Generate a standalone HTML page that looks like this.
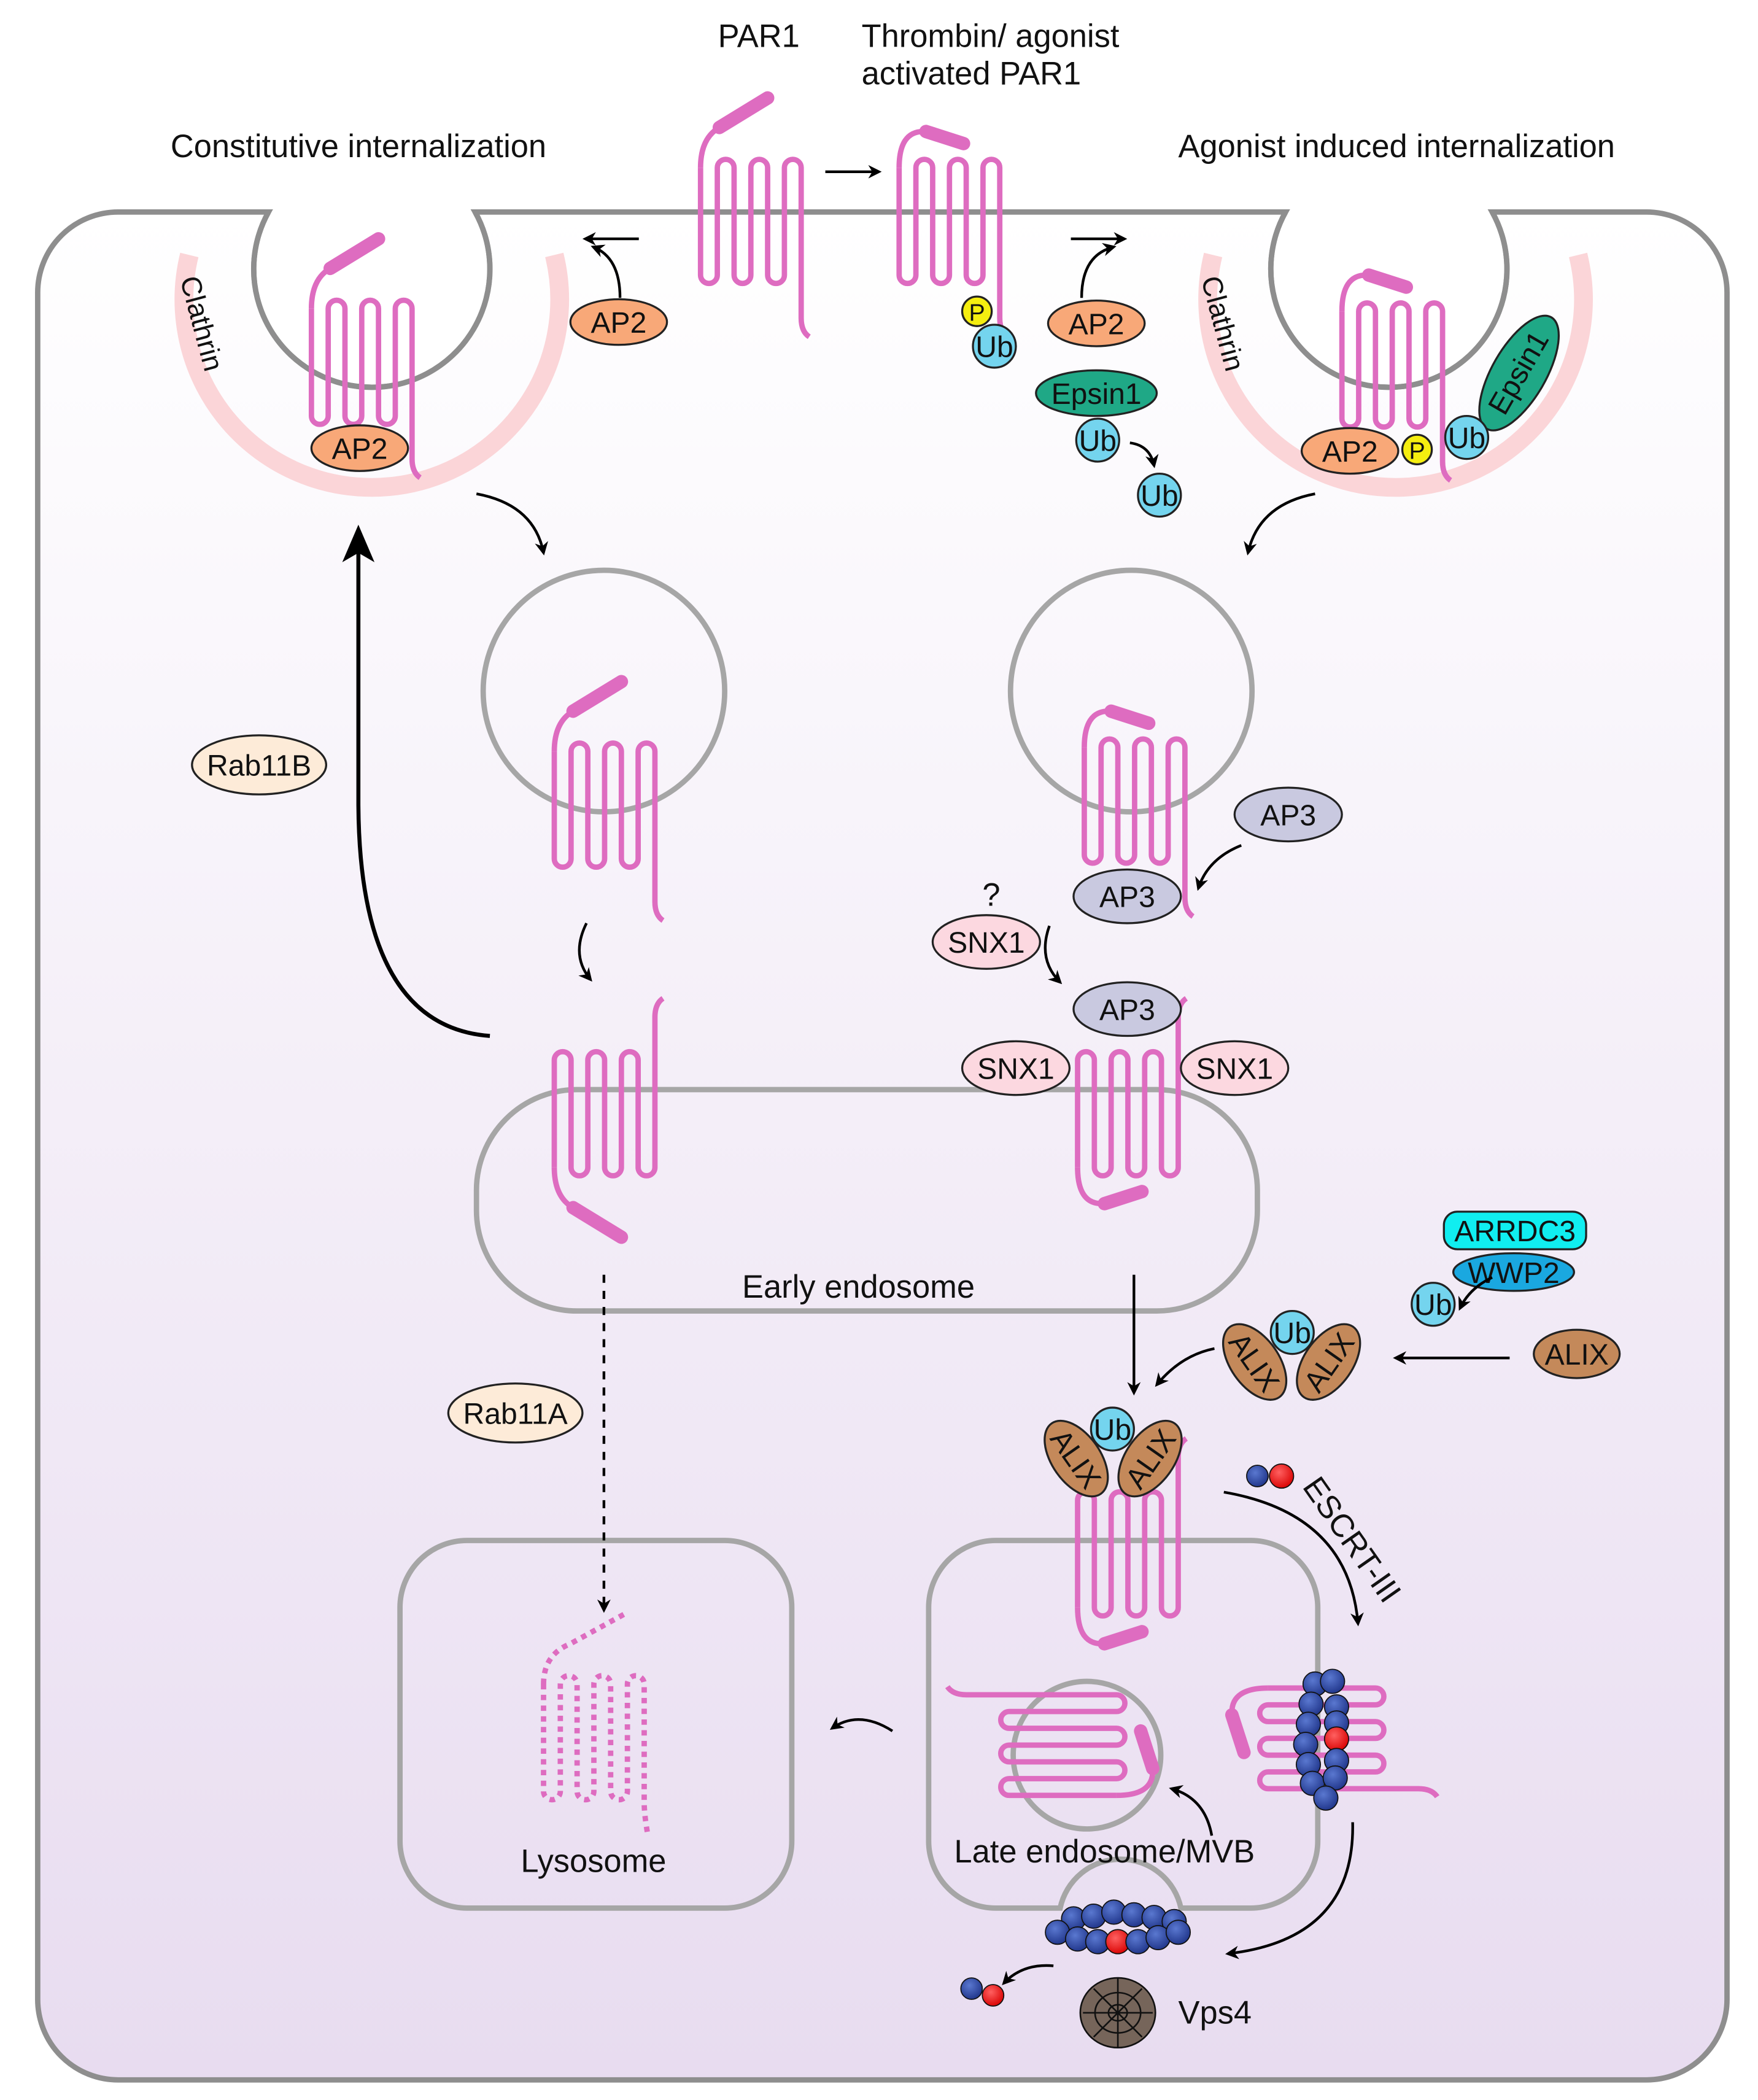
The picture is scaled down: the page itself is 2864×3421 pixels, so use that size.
<!DOCTYPE html>
<html><head><meta charset="utf-8"><style>
html,body{margin:0;padding:0;background:#fff}
svg{display:block}
text{font-family:"Liberation Sans",Arial,sans-serif;fill:#111}
</style></head><body>
<svg width="2864" height="3421" viewBox="0 0 1310 1565" xmlns="http://www.w3.org/2000/svg">
<defs>
<linearGradient id="bg" x1="0" y1="0" x2="0" y2="1">
<stop offset="0" stop-color="#ffffff"/><stop offset="1" stop-color="#e8dcf0"/>
</linearGradient>
<marker id="ah" markerWidth="10" markerHeight="10" refX="8" refY="5" orient="auto" markerUnits="userSpaceOnUse">
<path d="M0,0 L10,5 L0,10 L3,5 Z" fill="#000"/></marker>
<marker id="ahB" markerWidth="30" markerHeight="30" refX="24" refY="15" orient="auto" markerUnits="userSpaceOnUse">
<path d="M0,3 L28,15 L0,27 L7,15 Z" fill="#000"/></marker>
<radialGradient id="bead" cx="0.4" cy="0.35" r="0.7"><stop offset="0" stop-color="#5a78d0"/><stop offset="1" stop-color="#1e3388"/></radialGradient>
<radialGradient id="beadR" cx="0.4" cy="0.35" r="0.7"><stop offset="0" stop-color="#ff6060"/><stop offset="1" stop-color="#d80000"/></radialGradient>
<g id="tm">
<path d="M0,0 V80 a6.25,6.25 0 0 0 12.5,0 V0 a6.25,6.25 0 0 1 12.5,0 V80 a6.25,6.25 0 0 0 12.5,0 V0 a6.25,6.25 0 0 1 12.5,0 V80 a6.25,6.25 0 0 0 12.5,0 V0 a6.25,6.25 0 0 1 12.5,0 V112 q0,10 6,14" fill="none" stroke="#de6cc0" stroke-width="4"/>
</g>
<g id="rU"><use href="#tm"/><path d="M0,0 Q0,-22 14,-30" fill="none" stroke="#de6cc0" stroke-width="4"/><line x1="14" y1="-30" x2="50" y2="-52" stroke="#de6cc0" stroke-width="10" stroke-linecap="round"/></g>
<g id="rA"><use href="#tm"/><path d="M0,0 Q0,-27 18,-27" fill="none" stroke="#de6cc0" stroke-width="4"/><line x1="20" y1="-27" x2="48" y2="-18" stroke="#de6cc0" stroke-width="10" stroke-linecap="round"/></g>
</defs>

<rect width="1310" height="1565" fill="#fff"/>
<!-- cell -->
<path d="M200,158 H88 A60,60 0 0 0 28,218 V1490 A60,60 0 0 0 88,1550 H1227 A60,60 0 0 0 1287,1490 V218 A60,60 0 0 0 1227,158 H1112 A88,88 0 1 1 958,158 H354 A88,88 0 1 1 200,158 Z" fill="url(#bg)" stroke="#8e8e8e" stroke-width="4"/>
<!-- clathrin -->
<path d="M141,190 A140,140 0 1 0 413,190" fill="none" stroke="#fbd5d8" stroke-width="14"/>
<path d="M904,190 A140,140 0 1 0 1176,190" fill="none" stroke="#fbd5d8" stroke-width="14"/>
<path d="M354,158 A88,88 0 1 1 200,158" fill="none" stroke="#8e8e8e" stroke-width="4"/>
<path d="M1112,158 A88,88 0 1 1 958,158" fill="none" stroke="#8e8e8e" stroke-width="4"/>

<!-- compartments -->
<g fill="none" stroke="#a6a6a6" stroke-width="4">
<circle cx="450" cy="515" r="90"/>
<circle cx="843" cy="515" r="90"/>
<rect x="355" y="812" width="582" height="165" rx="75"/>
<rect x="298" y="1148" width="292" height="274" rx="50"/>
<path d="M742,1148 H932 A50,50 0 0 1 982,1198 V1372 A50,50 0 0 1 932,1422 H880 A46,46 0 0 0 790,1422 H742 A50,50 0 0 1 692,1372 V1198 A50,50 0 0 1 742,1148 Z"/>
<circle cx="810" cy="1308" r="55"/>
</g>

<!-- receptors -->
<use href="#rU" x="522" y="125"/>
<use href="#rA" x="670" y="125"/>
<use href="#rU" x="232" y="230"/>
<use href="#rA" x="1000" y="232"/>
<use href="#rU" x="413" y="560"/>
<use href="#rA" x="808" y="557"/>
<g transform="translate(413,870) scale(1,-1)"><use href="#rU"/></g>
<g transform="translate(803,870) scale(1,-1)"><use href="#rA"/></g>
<g transform="translate(803,1198) scale(1,-1)"><use href="#rA"/></g>
<g transform="translate(405,1255)"><path d="M0,0 V80 a6.25,6.25 0 0 0 12.5,0 V0 a6.25,6.25 0 0 1 12.5,0 V80 a6.25,6.25 0 0 0 12.5,0 V0 a6.25,6.25 0 0 1 12.5,0 V80 a6.25,6.25 0 0 0 12.5,0 V0 a6.25,6.25 0 0 1 12.5,0 V88 q0,10 3,26 M0,0 Q0,-22 20,-30 L60,-52" fill="none" stroke="#de6cc0" stroke-width="4" stroke-dasharray="4 4"/></g>
<g transform="translate(832,1338) rotate(90) scale(-1,1)"><use href="#rA"/></g>
<g transform="translate(945,1258) rotate(-90) scale(-1,1)"><use href="#rA"/></g>

<!-- ESCRT beads -->
<g stroke="#111" stroke-width="0.8">
<circle cx="980" cy="1255" r="9" fill="url(#bead)"/><circle cx="993" cy="1253" r="9" fill="url(#bead)"/>
<circle cx="977" cy="1270" r="9" fill="url(#bead)"/><circle cx="996" cy="1272" r="9" fill="url(#bead)"/>
<circle cx="975" cy="1285" r="9" fill="url(#bead)"/><circle cx="996" cy="1284" r="9" fill="url(#bead)"/>
<circle cx="973" cy="1300" r="9" fill="url(#bead)"/><circle cx="996" cy="1296" r="9" fill="url(#beadR)"/>
<circle cx="975" cy="1315" r="9" fill="url(#bead)"/><circle cx="996" cy="1312" r="9" fill="url(#bead)"/>
<circle cx="978" cy="1329" r="9" fill="url(#bead)"/><circle cx="995" cy="1325" r="9" fill="url(#bead)"/>
<circle cx="988" cy="1340" r="9" fill="url(#bead)"/>
<circle cx="800" cy="1430" r="9" fill="url(#bead)"/><circle cx="815" cy="1428" r="9" fill="url(#bead)"/><circle cx="830" cy="1425" r="9" fill="url(#bead)"/><circle cx="845" cy="1427" r="9" fill="url(#bead)"/><circle cx="860" cy="1429" r="9" fill="url(#bead)"/><circle cx="875" cy="1432" r="9" fill="url(#bead)"/>
<circle cx="788" cy="1440" r="9" fill="url(#bead)"/><circle cx="803" cy="1445" r="9" fill="url(#bead)"/><circle cx="818" cy="1447" r="9" fill="url(#bead)"/><circle cx="833" cy="1447" r="9" fill="url(#beadR)"/><circle cx="848" cy="1447" r="9" fill="url(#bead)"/><circle cx="863" cy="1444" r="9" fill="url(#bead)"/><circle cx="878" cy="1440" r="9" fill="url(#bead)"/>
<circle cx="937" cy="1100" r="8" fill="url(#bead)"/><circle cx="955" cy="1100" r="9" fill="url(#beadR)"/>
<circle cx="724" cy="1482" r="8" fill="url(#bead)"/><circle cx="740" cy="1487" r="8" fill="url(#beadR)"/>
</g>

<!-- Vps4 -->
<g stroke="#111" stroke-width="1.2" fill="none">
<ellipse cx="833" cy="1500" rx="28" ry="26" fill="#76655a"/>
<ellipse cx="833" cy="1500" rx="17" ry="15"/><ellipse cx="833" cy="1500" rx="7" ry="6"/>
<path d="M833,1474 V1526 M807,1500 H859 M815,1482 L851,1518 M851,1482 L815,1518"/>
</g>

<!-- proteins -->
<g stroke="#222" stroke-width="1.5" font-size="22">
<ellipse cx="461" cy="240" rx="36" ry="17" fill="#f8a878"/><text x="461" y="248" text-anchor="middle" stroke="none">AP2</text>
<ellipse cx="817" cy="241" rx="36" ry="17" fill="#f8a878"/><text x="817" y="249" text-anchor="middle" stroke="none">AP2</text>
<ellipse cx="268" cy="334" rx="36" ry="17" fill="#f8a878"/><text x="268" y="342" text-anchor="middle" stroke="none">AP2</text>
<ellipse cx="1006" cy="336" rx="36" ry="17" fill="#f8a878"/><text x="1006" y="344" text-anchor="middle" stroke="none">AP2</text>
<circle cx="728" cy="232" r="11" fill="#f5ee10"/><text x="728" y="239" text-anchor="middle" stroke="none" font-size="18">P</text>
<circle cx="1056" cy="335" r="11" fill="#f5ee10"/><text x="1056" y="342" text-anchor="middle" stroke="none" font-size="18">P</text>
<ellipse cx="1132" cy="278" rx="48" ry="20" transform="rotate(-60 1132 278)" fill="#1fa886"/><text x="1132" y="285" text-anchor="middle" stroke="none" transform="rotate(-60 1132 278)">Epsin1</text>
<ellipse cx="817" cy="293" rx="45" ry="17" fill="#1fa886"/><text x="817" y="301" text-anchor="middle" stroke="none">Epsin1</text>
<g fill="#74d4ee">
<circle cx="741" cy="258" r="16"/><circle cx="818" cy="328" r="16"/><circle cx="864" cy="369" r="16"/><circle cx="1093" cy="326" r="16"/><circle cx="1068" cy="972" r="16"/>
</g>
<g stroke="none"><text x="741" y="266" text-anchor="middle">Ub</text><text x="818" y="336" text-anchor="middle">Ub</text><text x="864" y="377" text-anchor="middle">Ub</text><text x="1093" y="334" text-anchor="middle">Ub</text><text x="1068" y="980" text-anchor="middle">Ub</text></g>
<ellipse cx="193" cy="570" rx="50" ry="22" fill="#fdebd8"/><text x="193" y="578" text-anchor="middle" stroke="none">Rab11B</text>
<ellipse cx="384" cy="1053" rx="50" ry="22" fill="#fdebd8"/><text x="384" y="1061" text-anchor="middle" stroke="none">Rab11A</text>
<ellipse cx="960" cy="607" rx="40" ry="20" fill="#c9c9e0"/><text x="960" y="615" text-anchor="middle" stroke="none">AP3</text>
<ellipse cx="840" cy="668" rx="40" ry="20" fill="#c9c9e0"/><text x="840" y="676" text-anchor="middle" stroke="none">AP3</text>
<ellipse cx="840" cy="752" rx="40" ry="20" fill="#c9c9e0"/><text x="840" y="760" text-anchor="middle" stroke="none">AP3</text>
<ellipse cx="735" cy="702" rx="40" ry="20" fill="#fcd8e0"/><text x="735" y="710" text-anchor="middle" stroke="none">SNX1</text>
<ellipse cx="757" cy="796" rx="40" ry="20" fill="#fcd8e0"/><text x="757" y="804" text-anchor="middle" stroke="none">SNX1</text>
<ellipse cx="920" cy="796" rx="40" ry="20" fill="#fcd8e0"/><text x="920" y="804" text-anchor="middle" stroke="none">SNX1</text>
<ellipse cx="1128" cy="948" rx="45" ry="14" fill="#1aa8e0"/><text x="1128" y="956" text-anchor="middle" stroke="none">WWP2</text>
<rect x="1076" y="903" width="106" height="28" rx="10" fill="#10eef0"/><text x="1129" y="925" text-anchor="middle" stroke="none">ARRDC3</text>
<ellipse cx="1175" cy="1009" rx="32" ry="18" fill="#c4895a"/><text x="1175" y="1017" text-anchor="middle" stroke="none">ALIX</text>
<g transform="rotate(55 935 1015)"><ellipse cx="935" cy="1015" rx="32" ry="18" fill="#c4895a"/><text x="935" y="1023" text-anchor="middle" stroke="none">ALIX</text></g>
<g transform="rotate(-55 990 1015)"><ellipse cx="990" cy="1015" rx="32" ry="18" fill="#c4895a"/><text x="990" y="1023" text-anchor="middle" stroke="none">ALIX</text></g>
<circle cx="963" cy="993" r="16" fill="#74d4ee"/><text x="963" y="1001" text-anchor="middle" stroke="none">Ub</text>
<g transform="rotate(55 802 1087)"><ellipse cx="802" cy="1087" rx="32" ry="18" fill="#c4895a"/><text x="802" y="1095" text-anchor="middle" stroke="none">ALIX</text></g>
<g transform="rotate(-55 857 1087)"><ellipse cx="857" cy="1087" rx="32" ry="18" fill="#c4895a"/><text x="857" y="1095" text-anchor="middle" stroke="none">ALIX</text></g>
<circle cx="829" cy="1065" r="16" fill="#74d4ee"/><text x="829" y="1073" text-anchor="middle" stroke="none">Ub</text>
</g>

<!-- arrows -->
<g fill="none" stroke="#000" stroke-width="2" marker-end="url(#ah)">
<line x1="615" y1="128" x2="655" y2="128"/>
<line x1="476" y1="178" x2="436" y2="178"/>
<path d="M462,222 Q462,192 442,184"/>
<line x1="798" y1="178" x2="838" y2="178"/>
<path d="M806,222 Q806,190 830,184"/>
<path d="M842,330 Q857,332 860,347"/>
<path d="M355,368 Q398,376 405,412"/>
<path d="M980,368 Q938,376 930,412"/>
<path d="M437,688 Q425,712 440,730"/>
<path d="M925,630 Q900,640 893,662"/>
<path d="M782,690 Q773,715 790,732"/>
<path d="M845,950 V1038"/>
<path d="M905,1005 Q880,1010 862,1032"/>
<path d="M1125,1012 H1040"/>
<path d="M1112,952 Q1095,960 1088,975"/>
<path d="M912,1112 Q1005,1128 1012,1210"/>
<path d="M1008,1358 Q1010,1445 915,1456"/>
<path d="M903,1368 Q898,1340 873,1333"/>
<path d="M665,1290 Q640,1274 620,1288"/>
<path d="M785,1465 Q762,1463 748,1478"/>
<path d="M450,950 V1200" stroke-dasharray="6 6"/>
</g>
<path d="M365,772 Q268,765 267,600 V395" fill="none" stroke="#000" stroke-width="3" marker-end="url(#ahB)"/>

<!-- labels -->
<g font-size="24">
<text x="535" y="35">PAR1</text>
<text x="642" y="35">Thrombin/ agonist</text>
<text x="642" y="63">activated PAR1</text>
<text x="127" y="117">Constitutive internalization</text>
<text x="878" y="117">Agonist induced internalization</text>
<text x="553" y="967">Early endosome</text>
<text x="388" y="1395">Lysosome</text>
<text x="711" y="1388">Late endosome/MVB</text>
<text x="878" y="1508">Vps4</text>
<text x="732" y="675">?</text>
<text x="970" y="1108" transform="rotate(55 970 1108)">ESCRT-III</text>
<text x="134" y="208" transform="rotate(75 134 208)" font-size="21">Clathrin</text>
<text x="895" y="208" transform="rotate(75 895 208)" font-size="21">Clathrin</text>
</g>
</svg>
</body></html>
